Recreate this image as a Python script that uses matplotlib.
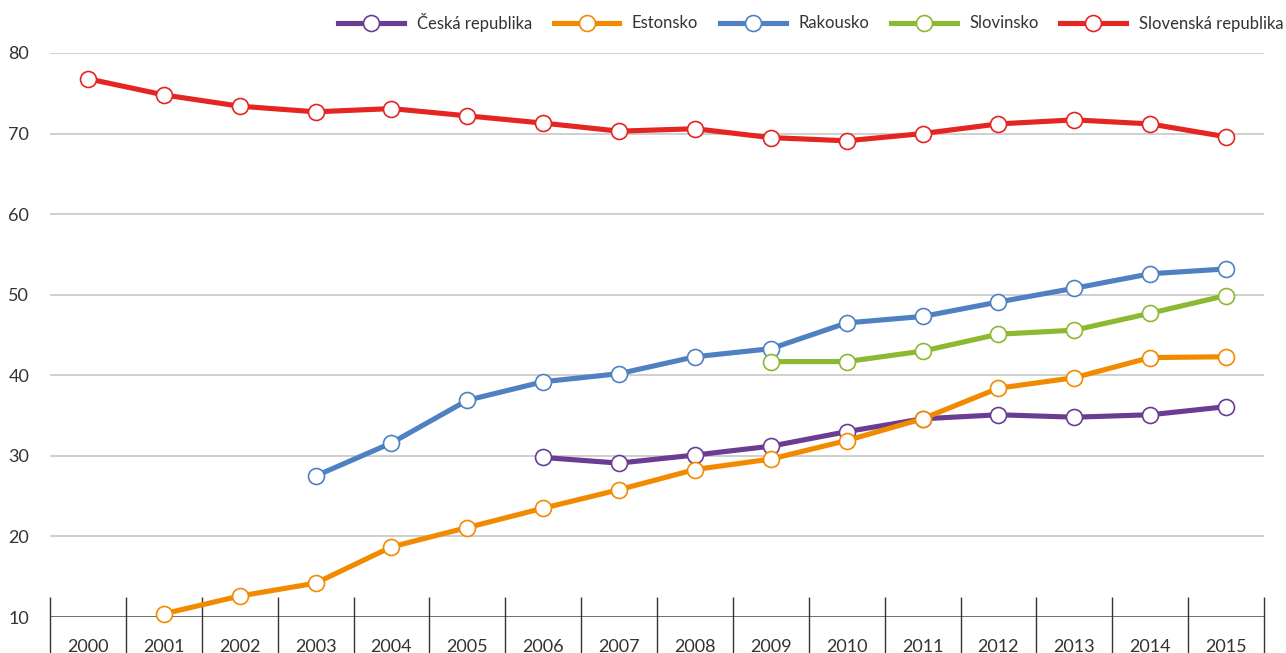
import matplotlib
matplotlib.use("Agg")
import matplotlib.pyplot as plt
import numpy as np

years = [str(y) for y in range(2000, 2016)]

cz_years = years[6:]
cz = [29.8, 29.1, 30.1, 31.2, 33.0, 34.6, 35.1, 34.8, 35.1, 36.1]

ee_years = years[1:]
ee = [10.4, 12.6, 14.2, 18.7, 21.1, 23.5, 25.8, 28.3, 29.6, 31.9, 34.6, 38.4, 39.7, 42.2, 42.3]

at_years = years[3:]
at = [27.5, 31.6, 36.9, 39.2, 40.2, 42.3, 43.3, 46.5, 47.3, 49.1, 50.8, 52.6, 53.2]

si_years = years[9:]
si = [41.7, 41.7, 43.0, 45.1, 45.6, 47.7, 49.9]

sk_years = years
sk = [76.8, 74.8, 73.4, 72.7, 73.1, 72.2, 71.3, 70.3, 70.6, 69.5, 69.1, 70.0, 71.2, 71.7, 71.2, 69.6]

series = [
    ("Česká republika", cz_years, cz, "#6a3d92"),
    ("Estonsko", ee_years, ee, "#f28a00"),
    ("Rakousko", at_years, at, "#4f81c2"),
    ("Slovinsko", si_years, si, "#8cb832"),
    ("Slovenská republika", sk_years, sk, "#e42522"),
]

plt.rcParams['font.family'] = ['Lato', 'DejaVu Sans']

W, H = 1286, 653
fig = plt.figure(figsize=(W / 100, H / 100), dpi=100)
left, right = 50 / W, 1264 / W
bottom, top = (H - 617) / H, (H - 53) / H
ax = fig.add_axes([left, bottom, right - left, top - bottom])

xpos = {y: i for i, y in enumerate(years)}

for name, xs, ys, col in series:
    ax.plot([xpos[x] for x in xs], ys, color=col, lw=3.7, marker='o', ms=11.5,
            mfc='white', mec=col, mew=1.2, label=name, clip_on=False, zorder=3)

ax.set_xlim(-0.5, len(years) - 0.5)
ax.set_ylim(10, 80)
ax.set_yticks([10, 20, 30, 40, 50, 60, 70, 80])
for v in [20, 30, 40, 50, 60, 70, 80]:
    ax.axhline(v, color='#cccccc', lw=1.3, zorder=1)
ax.axhline(10, color='#555555', lw=1.2, zorder=2)

# category separators
bnds = np.arange(len(years) + 1) - 0.5
ax.vlines(bnds, 5, 12.5, colors='#333333', lw=1.0, clip_on=False, zorder=2)

ax.set_xticks(range(len(years)))
ax.set_xticklabels(years)
ax.tick_params(axis='x', length=0, pad=15.5, labelsize=13, colors='#333333')
ax.tick_params(axis='y', length=0, pad=15, labelsize=13, colors='#333333')
for s in ax.spines.values():
    s.set_visible(False)

leg = fig.legend(loc='center right', bbox_to_anchor=(1.003, (H - 22) / H), ncol=5,
                 frameon=False, handlelength=3.95, handletextpad=0.75, columnspacing=1.3,
                 fontsize=12, borderaxespad=0)
for t in leg.get_texts():
    t.set_color('#333333')

fig.savefig("out.png", dpi=100)
